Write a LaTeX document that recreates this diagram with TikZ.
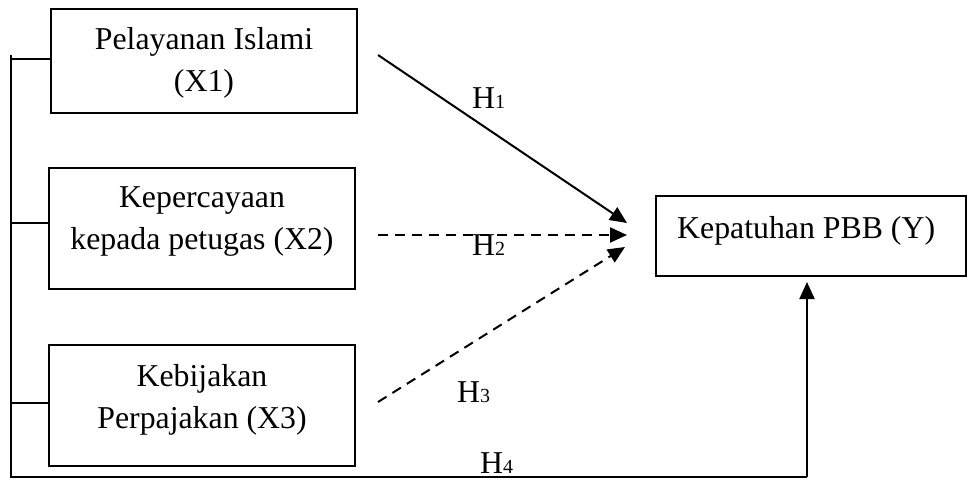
\documentclass[tikz,border=0pt]{standalone}
\usepackage{fontspec}
\setmainfont{Liberation Serif}
\usetikzlibrary{arrows.meta}
\newcommand{\hsub}[1]{H{\fontsize{20}{24}\selectfont #1}}
\begin{document}
\begin{tikzpicture}[x=1pt,y=-1pt,
  every node/.style={font=\fontsize{31.8}{42}\selectfont},
  box/.style={draw,line width=2pt,rectangle,inner sep=0pt},
  txt/.style={align=center,inner sep=0pt},
  lbl/.style={anchor=base west,inner sep=0pt},
  link/.style={line width=2pt},
  arr/.style={line width=2pt,-{Triangle[length=17pt,width=15pt]}},
  dsh/.style={dash pattern=on 10pt off 7pt}]
\useasboundingbox (0,0) rectangle (968,479);
% boxes
\node[box,minimum width=306pt,minimum height=104pt] (x1) at (204,61) {};
\node[txt] (x1t) at (204,63) {Pelayanan Islami\\(X1)};
\node[box,minimum width=306pt,minimum height=121pt] (x2) at (202,228) {};
\node[txt] (x2t) at (202,221.5) {Kepercayaan\\kepada petugas (X2)};
\node[box,minimum width=306pt,minimum height=121pt] (x3) at (202,405.5) {};
\node[txt] (x3t) at (202,400) {Kebijakan\\Perpajakan (X3)};
\node[box,minimum width=310pt,minimum height=80pt] (y) at (811,236) {};
\node[lbl] (yt) at (677,238) {Kepatuhan PBB (Y)};
% left bracket
\coordinate (ltop) at (11,55);
\coordinate (lbot) at (11,477);
\coordinate (rbot) at (807,477);
\draw[link] (ltop) -- (lbot) -- (rbot);
\draw[link] (11,59) -- (x1.west |- 0,59);
\draw[link] (11,223) -- (x2.west |- 0,223);
\draw[link] (11,403) -- (x3.west |- 0,403);
\draw[arr] (rbot) -- (807,282);
% arrows to Y
\coordinate (s1) at (378,55);
\coordinate (e1) at (627,223);
\coordinate (s2) at (378,235);
\coordinate (e2) at (627,235);
\coordinate (s3) at (378,402);
\coordinate (e3) at (625,247);
\draw[arr] (s1) -- (e1);
\draw[arr,dsh] (s2) -- (e2);
\draw[arr,dsh] (s3) -- (e3);
% labels
\node[lbl] (h1) at (472,108) {\hsub{1}};
\node[lbl] (h2) at (472,255) {\hsub{2}};
\node[lbl] (h3) at (457,402) {\hsub{3}};
\node[lbl] (h4) at (480,473) {\hsub{4}};
\end{tikzpicture}
\end{document}
